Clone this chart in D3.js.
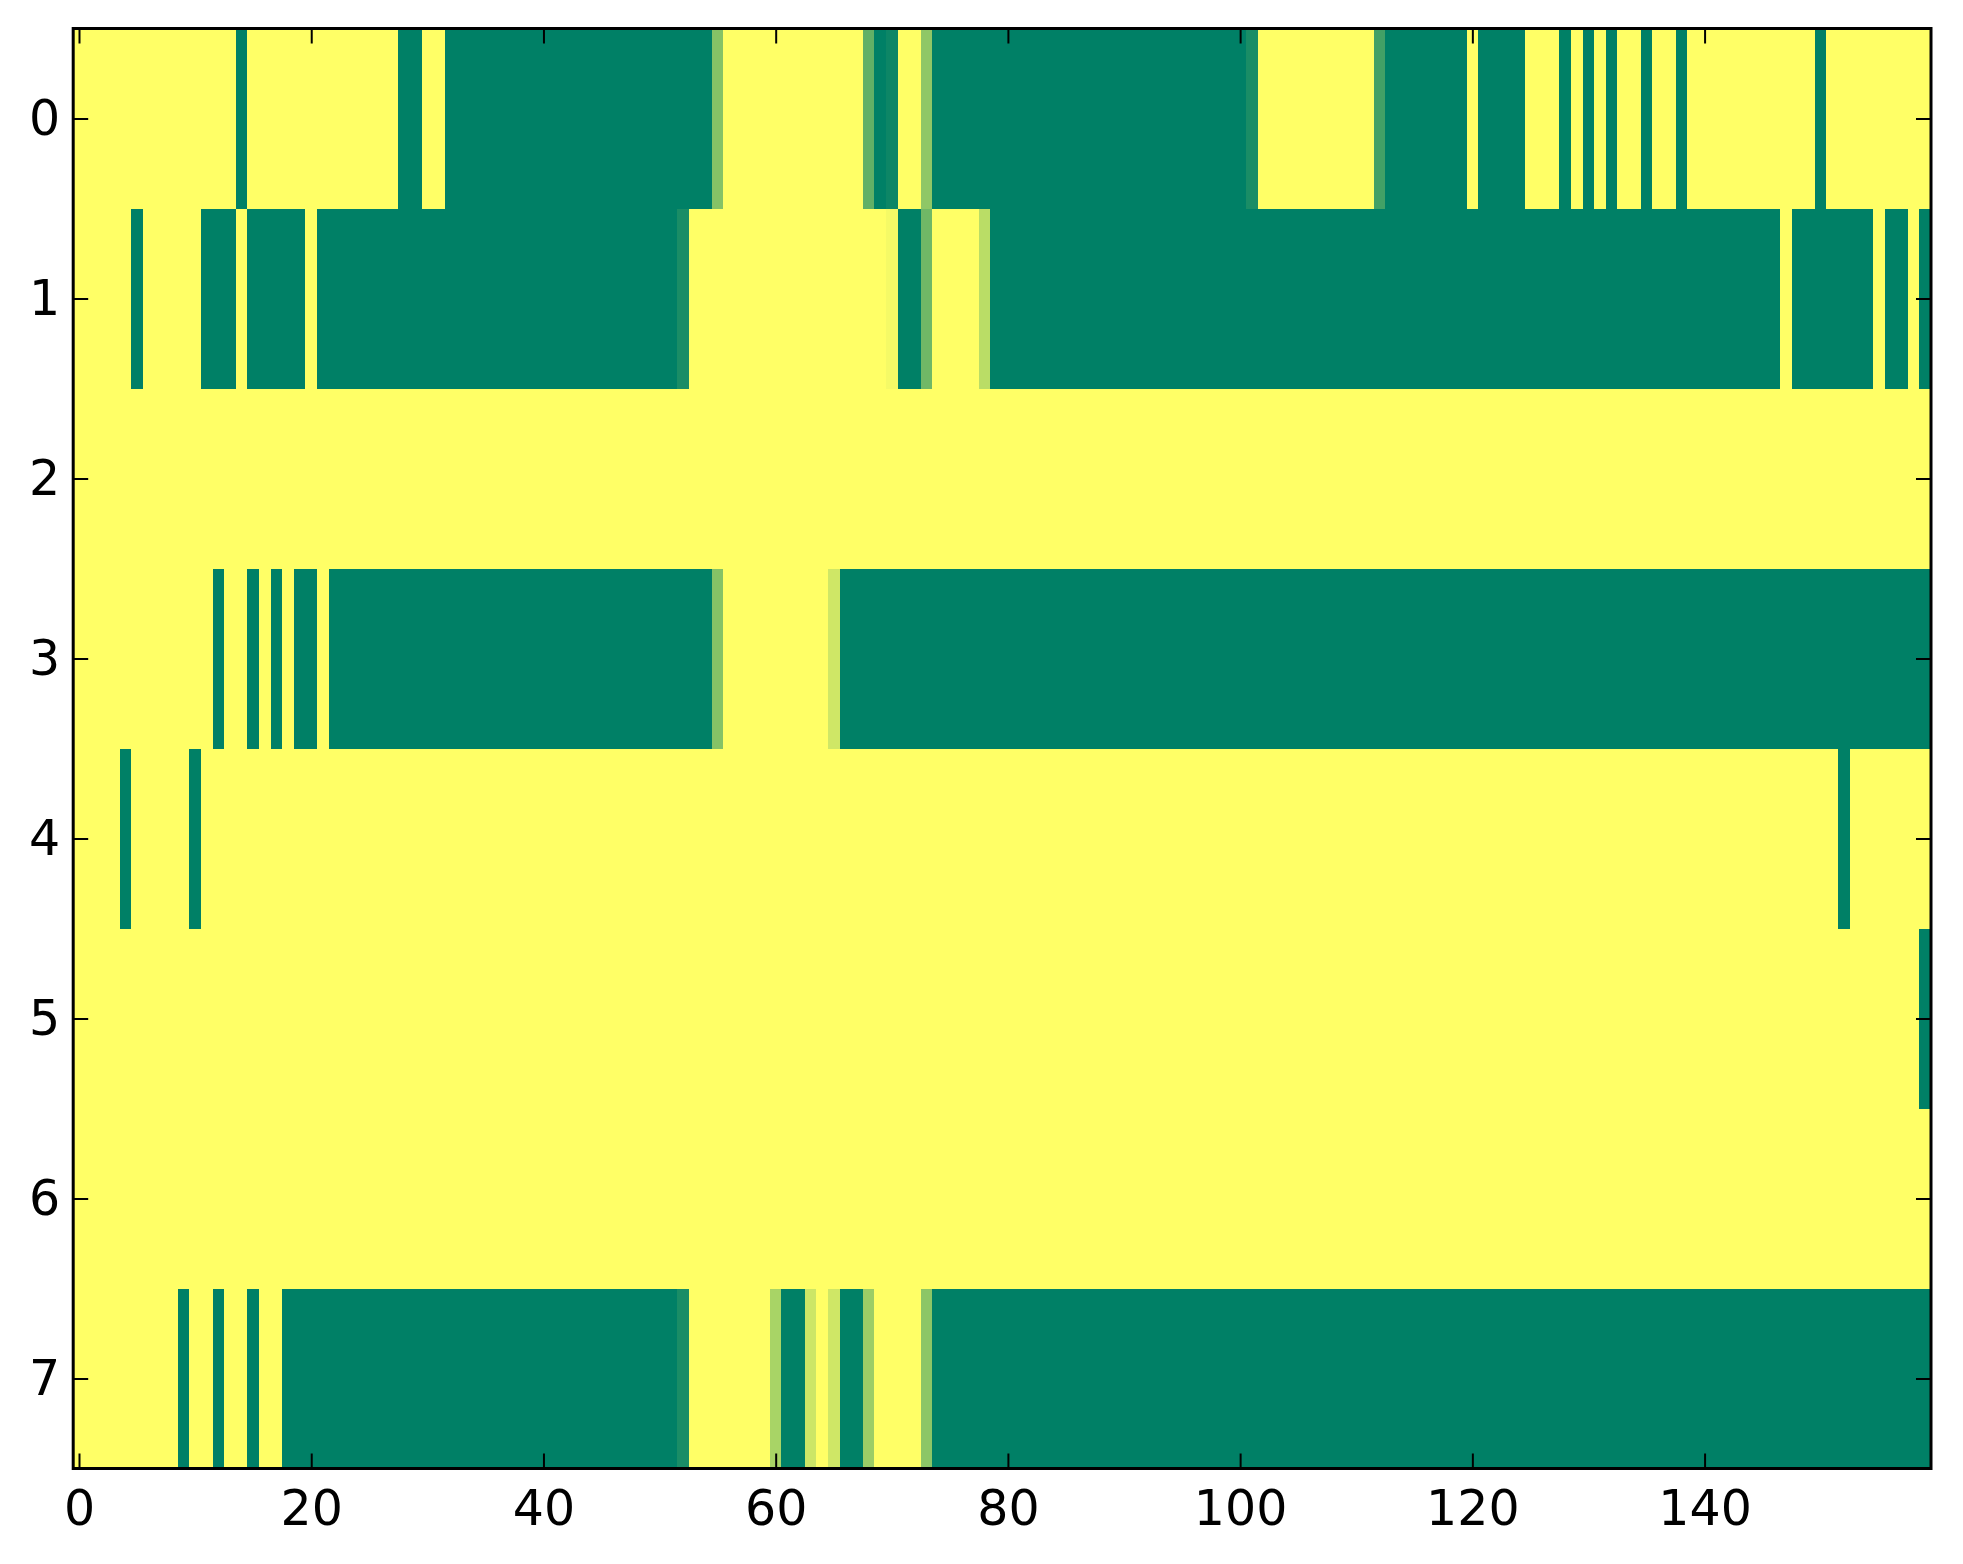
<!DOCTYPE html>
<html>
<head>
<meta charset="utf-8">
<script src="https://cdn.jsdelivr.net/npm/d3@7"></script>
<style>
  body { margin: 0; background: #fff; }
  svg { display: block; }
</style>
</head>
<body>
<div class="chart"></div>
<script>
// each row as runs of [value, count], 160 columns per row
const row0 = [[1,14],[0,1],[1,13],[0,2],[1,2],[0,23],[0.52,1],[1,12],[0.38,1],[0,1],[0.05,1],[1,2],[0.56,1],[0,27],[0.1,1],[1,10],[0.26,1],[0,7],[1,1],[0,4],[1,3],[0,1],[1,1],[0,1],[1,1],[0,1],[1,2],[0,1],[1,2],[0,1],[1,11],[0,1],[1,9]];
const row1 = [[1,5],[0,1],[1,5],[0,3],[1,1],[0,5],[1,1],[0,31],[0.1,1],[1,17],[0.96,1],[0,2],[0.44,1],[1,4],[0.73,1],[0,68],[1,1],[0,7],[1,1],[0,2],[1,1],[0,1]];
const row2 = [[1,160]];
const row3 = [[1,12],[0,1],[1,2],[0,1],[1,1],[0,1],[1,1],[0,2],[1,1],[0,33],[0.52,1],[1,9],[0.81,1],[0,94]];
const row4 = [[1,4],[0,1],[1,5],[0,1],[1,141],[0,1],[1,7]];
const row5 = [[1,159],[0,1]];
const row6 = [[1,160]];
const row7 = [[1,9],[0,1],[1,2],[0,1],[1,2],[0,1],[1,2],[0,34],[0.1,1],[1,7],[0.66,1],[0,2],[0.8,1],[1,1],[0.81,1],[0,2],[0.61,1],[1,4],[0.55,1],[0,86]];

const rowRuns = [row0, row1, row2, row3, row4, row5, row6, row7];
const xTicks = [0, 20, 40, 60, 80, 100, 120, 140];
const yTicks = [0, 1, 2, 3, 4, 5, 6, 7];
const nCols = 160;

// expand runs into cells
const cells = [];
rowRuns.forEach((runs, r) => {
  let c = 0;
  runs.forEach(([v, n]) => {
    for (let i = 0; i < n; i++) { cells.push({row: r, col: c, value: v}); c++; }
  });
});

const W = 1963, H = 1564;
const margin = {top: 28.5, right: 32, bottom: 95.5, left: 73.2};
const width = W - margin.left - margin.right;
const height = H - margin.top - margin.bottom;

const svg = d3.select(".chart")
  .append("svg")
  .attr("width", W)
  .attr("height", H);

const g = svg.append("g")
  .attr("transform", "translate(" + margin.left + "," + margin.top + ")");

const x = d3.scaleLinear().domain([-0.5, nCols - 0.5]).range([0, width]);
const y = d3.scaleLinear().domain([-0.5, rowRuns.length - 0.5]).range([0, height]);

// matplotlib "summer" colormap
const summer = d3.scaleLinear().domain([0, 1]).range(["#008066", "#ffff66"]);

g.selectAll(null)
  .data(cells)
  .enter()
  .append("rect")
  .attr("x", d => x(d.col - 0.5))
  .attr("y", d => y(d.row - 0.5))
  .attr("width", d => x(d.col + 0.5) - x(d.col - 0.5) + 0.4)
  .attr("height", d => y(d.row + 0.5) - y(d.row - 0.5) + 0.4)
  .attr("fill", d => summer(d.value))
  .attr("shape-rendering", "crispEdges");

const fontFam = "'DejaVu Sans', sans-serif";
const tick = 15;

function styleAxis(sel, showText) {
  sel.select(".domain").remove();
  sel.selectAll(".tick line").attr("stroke", "#000").attr("stroke-width", 2);
  sel.selectAll(".tick text")
    .attr("font-family", fontFam)
    .attr("font-size", "49px")
    .attr("fill", "#000")
    .style("display", showText ? null : "none");
}

g.append("g")
  .attr("transform", "translate(0," + height + ")")
  .call(d3.axisBottom(x).tickValues(xTicks).tickSizeInner(-tick).tickSizeOuter(0).tickPadding(22))
  .call(s => styleAxis(s, true));

g.append("g")
  .call(d3.axisTop(x).tickValues(xTicks).tickSizeInner(-tick).tickSizeOuter(0))
  .call(s => styleAxis(s, false));

g.append("g")
  .call(d3.axisLeft(y).tickValues(yTicks).tickSizeInner(-tick).tickSizeOuter(0).tickPadding(13))
  .call(s => styleAxis(s, true));

g.append("g")
  .attr("transform", "translate(" + width + ",0)")
  .call(d3.axisRight(y).tickValues(yTicks).tickSizeInner(-tick).tickSizeOuter(0))
  .call(s => styleAxis(s, false));

// frame
g.append("rect")
  .attr("x", 0).attr("y", 0)
  .attr("width", width).attr("height", height)
  .attr("fill", "none")
  .attr("stroke", "#000")
  .attr("stroke-width", 3);
</script>
</body>
</html>
